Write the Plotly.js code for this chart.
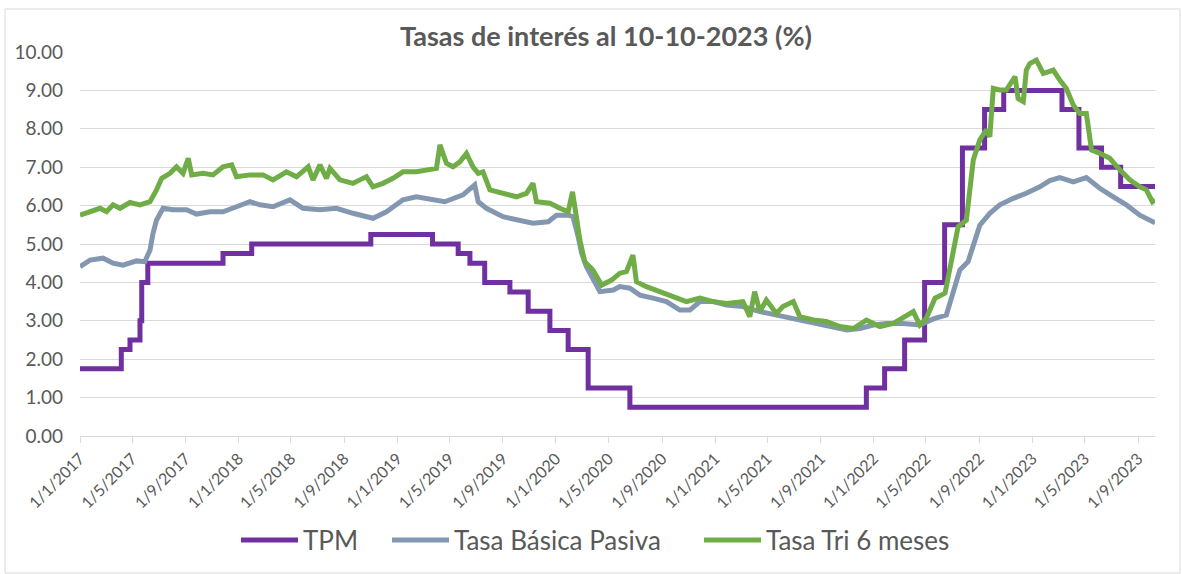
<!DOCTYPE html>
<html>
<head>
<meta charset="utf-8">
<script src="https://cdn.plot.ly/plotly-3.0.1.min.js"></script>
<style>html,body{margin:0;padding:0;background:#fff;}#chart{width:1182px;height:574px;}</style>
</head>
<body>
<div id="chart"></div>
<script>
// TPM (step series)
const tpmDates = ['2017-01-01','2017-04-06','2017-04-26','2017-05-19','2017-05-23','2017-06-06','2017-11-26','2018-01-31','2018-11-01','2019-03-23','2019-05-21','2019-06-17','2019-07-21','2019-09-17','2019-10-29','2019-12-18','2020-01-29','2020-03-15','2020-06-19','2021-12-15','2022-01-26','2022-03-13','2022-04-28','2022-06-13','2022-07-24','2022-09-13','2022-10-27','2023-03-10','2023-04-18','2023-06-09','2023-07-23','2023-10-10'];
const tpmValues = [1.75,2.25,2.50,3.00,4.00,4.50,4.75,5.00,5.25,5.00,4.75,4.50,4.00,3.75,3.25,2.75,2.25,1.25,0.75,1.25,1.75,2.50,4.00,5.50,7.50,8.50,9.00,8.50,7.50,7.00,6.50,6.50];

// Tasa Básica Pasiva
const tbpDates = ['2017-01-01','2017-01-24','2017-02-23','2017-03-18','2017-04-10','2017-04-26','2017-05-11','2017-05-30','2017-06-11','2017-06-18','2017-06-26','2017-07-11','2017-08-03','2017-09-03','2017-09-26','2017-10-27','2017-11-26','2017-12-27','2018-01-27','2018-02-19','2018-03-21','2018-04-29','2018-05-29','2018-07-07','2018-08-14','2018-09-21','2018-11-06','2018-12-07','2019-01-14','2019-02-14','2019-03-24','2019-04-20','2019-06-01','2019-06-28','2019-07-06','2019-07-25','2019-09-01','2019-10-10','2019-11-09','2019-12-14','2020-01-02','2020-01-29','2020-02-09','2020-02-21','2020-02-29','2020-03-11','2020-03-26','2020-04-11','2020-05-12','2020-05-27','2020-06-19','2020-07-12','2020-08-11','2020-09-11','2020-10-12','2020-11-04','2020-11-27','2020-12-28','2021-01-27','2021-03-06','2021-04-14','2021-05-22','2021-06-30','2021-08-15','2021-09-22','2021-10-31','2021-11-30','2021-12-31','2022-01-30','2022-03-10','2022-04-17','2022-05-18','2022-06-17','2022-07-06','2022-07-18','2022-08-06','2022-08-18','2022-09-02','2022-09-25','2022-10-18','2022-11-18','2022-12-18','2023-01-18','2023-02-10','2023-03-05','2023-04-05','2023-05-05','2023-06-05','2023-07-06','2023-08-05','2023-09-05','2023-10-10'];
const tbpValues = [4.41,4.58,4.63,4.50,4.45,4.50,4.56,4.54,4.84,5.28,5.62,5.93,5.89,5.89,5.78,5.84,5.84,5.97,6.10,6.02,5.97,6.15,5.93,5.89,5.93,5.80,5.67,5.84,6.15,6.23,6.15,6.10,6.28,6.54,6.10,5.93,5.71,5.63,5.54,5.58,5.75,5.75,5.71,5.19,4.76,4.41,4.06,3.76,3.80,3.89,3.85,3.67,3.59,3.50,3.28,3.28,3.50,3.50,3.41,3.37,3.24,3.15,3.07,2.93,2.85,2.76,2.80,2.89,2.93,2.93,2.89,3.05,3.15,3.89,4.32,4.54,4.93,5.49,5.80,6.02,6.19,6.32,6.49,6.65,6.73,6.62,6.73,6.45,6.23,6.02,5.75,5.55];

// Tasa Tri 6 meses
const triDates = ['2017-01-01','2017-01-24','2017-02-16','2017-03-03','2017-03-18','2017-04-03','2017-04-26','2017-05-19','2017-06-11','2017-06-26','2017-07-08','2017-07-27','2017-08-11','2017-08-26','2017-09-07','2017-09-15','2017-10-11','2017-11-03','2017-11-26','2017-12-16','2017-12-27','2018-01-27','2018-02-26','2018-03-21','2018-04-21','2018-05-14','2018-06-10','2018-06-21','2018-07-07','2018-07-22','2018-07-30','2018-08-22','2018-09-21','2018-10-07','2018-10-22','2018-11-06','2018-11-29','2018-12-22','2019-01-14','2019-02-14','2019-03-17','2019-04-01','2019-04-09','2019-04-24','2019-05-09','2019-05-25','2019-06-09','2019-06-24','2019-07-06','2019-07-17','2019-08-02','2019-09-01','2019-10-02','2019-10-25','2019-11-09','2019-11-17','2019-12-18','2020-01-10','2020-01-29','2020-02-08','2020-02-17','2020-02-25','2020-03-07','2020-03-26','2020-04-15','2020-05-08','2020-05-27','2020-06-11','2020-06-26','2020-07-04','2020-07-27','2020-08-27','2020-09-26','2020-10-27','2020-11-27','2020-12-28','2021-01-27','2021-03-06','2021-03-22','2021-04-02','2021-04-14','2021-04-29','2021-05-22','2021-06-06','2021-06-30','2021-07-15','2021-08-15','2021-09-14','2021-10-15','2021-11-15','2021-12-15','2022-01-15','2022-02-15','2022-03-17','2022-04-02','2022-04-17','2022-05-02','2022-05-22','2022-06-14','2022-06-29','2022-07-14','2022-08-02','2022-08-10','2022-08-18','2022-09-02','2022-09-17','2022-09-25','2022-10-03','2022-10-18','2022-11-02','2022-11-22','2022-11-29','2022-12-11','2022-12-18','2022-12-26','2023-01-10','2023-01-26','2023-02-18','2023-03-05','2023-03-20','2023-04-05','2023-04-20','2023-05-05','2023-05-17','2023-06-05','2023-06-28','2023-07-21','2023-08-13','2023-09-05','2023-09-20','2023-10-04','2023-10-10'];
const triValues = [5.75,5.84,5.93,5.84,6.02,5.93,6.08,6.02,6.10,6.41,6.71,6.84,7.01,6.84,7.23,6.80,6.84,6.80,7.01,7.06,6.75,6.80,6.80,6.67,6.88,6.75,7.01,6.67,7.06,6.71,6.97,6.67,6.58,6.67,6.75,6.49,6.58,6.71,6.88,6.88,6.93,6.97,7.58,7.10,7.01,7.14,7.36,7.01,6.84,6.88,6.41,6.32,6.23,6.32,6.58,6.10,6.06,5.93,5.84,6.36,5.71,5.10,4.54,4.32,3.93,4.06,4.24,4.28,4.71,4.02,3.89,3.76,3.63,3.50,3.59,3.50,3.45,3.50,3.11,3.76,3.24,3.54,3.19,3.37,3.50,3.11,3.02,2.98,2.85,2.80,3.02,2.85,2.93,3.11,3.24,2.89,3.07,3.59,3.72,4.58,5.45,5.62,6.49,7.19,7.71,7.97,7.79,9.05,9.01,9.01,9.36,8.79,8.71,9.53,9.70,9.79,9.44,9.53,9.27,9.05,8.62,8.40,8.40,7.45,7.36,7.23,6.93,6.67,6.49,6.41,6.10,6.15];

const tickDates = ['2017-01-01','2017-05-01','2017-09-01','2018-01-01','2018-05-01','2018-09-01','2019-01-01','2019-05-01','2019-09-01','2020-01-01','2020-05-01','2020-09-01','2021-01-01','2021-05-01','2021-09-01','2022-01-01','2022-05-01','2022-09-01','2023-01-01','2023-05-01','2023-09-01'];
const tickLabels = ['1/1/2017','1/5/2017','1/9/2017','1/1/2018','1/5/2018','1/9/2018','1/1/2019','1/5/2019','1/9/2019','1/1/2020','1/5/2020','1/9/2020','1/1/2021','1/5/2021','1/9/2021','1/1/2022','1/5/2022','1/9/2022','1/1/2023','1/5/2023','1/9/2023'];
const yTicks = [0,1,2,3,4,5,6,7,8,9,10];

const FONT = 'Lato, "Open Sans", sans-serif';
const TXT = '#595959';

const traces = [
  {x: tpmDates, y: tpmValues, name: 'TPM', type: 'scatter', mode: 'lines', legend: 'legend',
   line: {color: '#7030A0', width: 5, shape: 'hv'}},
  {x: tbpDates, y: tbpValues, name: 'Tasa Básica Pasiva', type: 'scatter', mode: 'lines', legend: 'legend2',
   line: {color: '#8497B0', width: 5}},
  {x: triDates, y: triValues, name: 'Tasa Tri 6 meses', type: 'scatter', mode: 'lines', legend: 'legend3',
   line: {color: '#70AD47', width: 5}}
];

const L = 80, R = 1155, T = 52, B = 436;
const W = R - L, H = B - T;
const CW = 1182, CH = 574;

function legendAt(px) {
  return {orientation: 'h', x: px / CW, xanchor: 'left', xref: 'container', y: 1 - 540 / CH, yref: 'container', yanchor: 'middle',
          font: {family: FONT, size: 26, color: TXT}, itemwidth: 57, bgcolor: 'rgba(0,0,0,0)', borderwidth: 0};
}

const layout = {
  width: CW, height: CH,
  margin: {l: L, r: CW - R, t: T, b: CH - B, pad: 0},
  paper_bgcolor: '#ffffff', plot_bgcolor: '#ffffff',
  font: {family: FONT, color: TXT},
  title: {text: '<b>Tasas de interés al 10-10-2023 (%)</b>', font: {family: FONT, size: 27, color: TXT},
          xref: 'container', x: 606 / CW, xanchor: 'center', yref: 'container', y: 1 - 37 / CH, yanchor: 'middle'},
  showlegend: true,
  legend: legendAt(236),
  legend2: legendAt(387),
  legend3: legendAt(699),
  xaxis: {type: 'date', range: ['2017-01-01', '2023-10-10'], tickmode: 'array', tickvals: tickDates, ticktext: tickLabels,
          tickangle: -45, tickfont: {family: FONT, size: 16, color: TXT}, showgrid: false, zeroline: false,
          showline: true, linecolor: '#d9d9d9', linewidth: 1, ticks: 'outside', ticklen: 6, tickcolor: '#d9d9d9'},
  yaxis: {range: [0, 10], tickmode: 'array', tickvals: yTicks, tickformat: '.2f', tickfont: {family: FONT, size: 19, color: TXT},
          showgrid: true, gridcolor: '#d9d9d9', gridwidth: 1, zeroline: false, showline: false, ticks: '', ticklabelstandoff: 16},
  shapes: [{type: 'rect', xref: 'paper', yref: 'paper', x0: (5 - L) / W, x1: (1180 - L) / W, y0: (B - 573) / H, y1: (B - 9) / H,
            line: {color: '#d9d9d9', width: 1}, fillcolor: 'rgba(0,0,0,0)', layer: 'below'}]
};

Plotly.newPlot('chart', traces, layout, {displayModeBar: false, staticPlot: true});
</script>
</body>
</html>
